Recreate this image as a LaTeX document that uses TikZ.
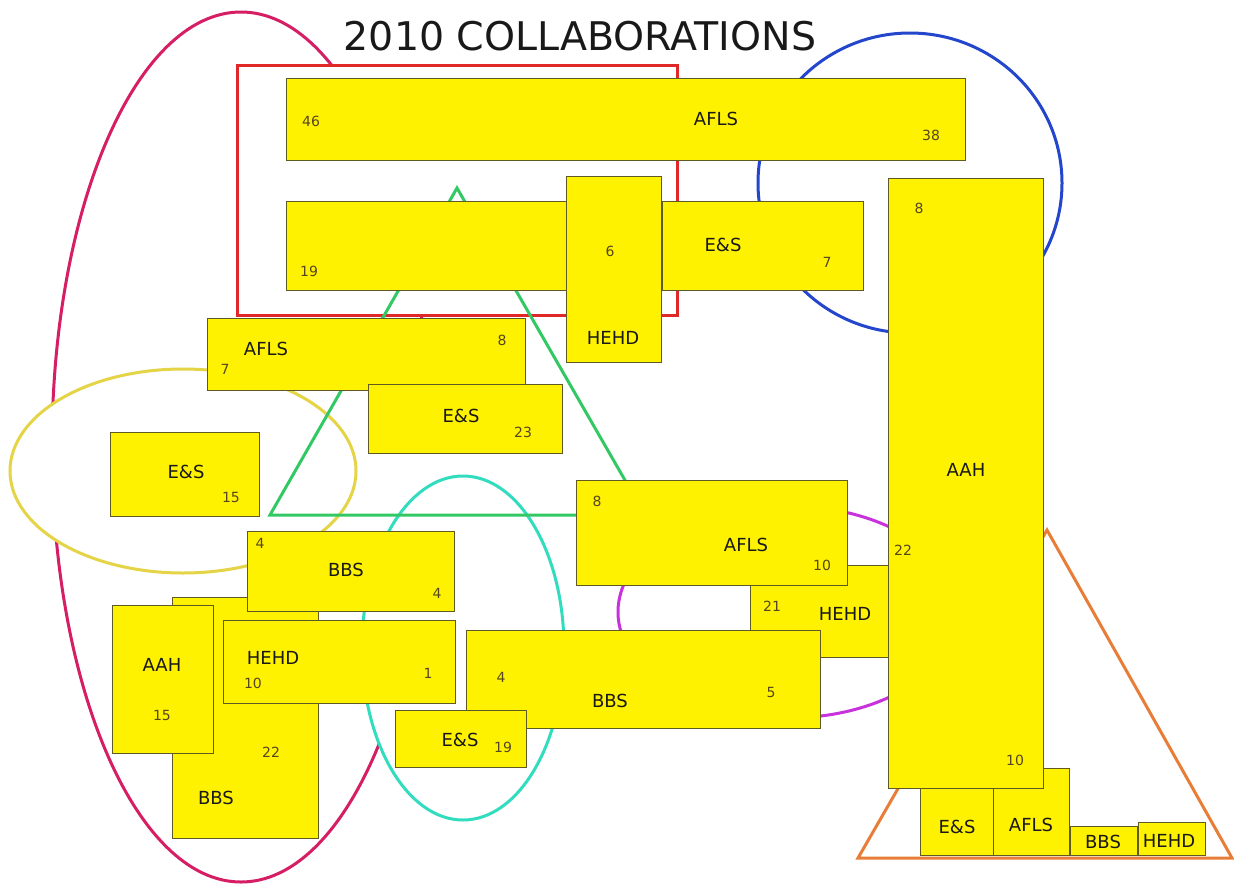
\documentclass[tikz,border=0pt]{standalone}
\usepackage{fontspec}
\setmainfont{DejaVu Sans}
\definecolor{boxc}{RGB}{95,90,35}
\definecolor{numc}{RGB}{85,70,30}
\definecolor{pinkc}{RGB}{214,30,100}
\definecolor{redc}{RGB}{224,40,40}
\definecolor{yelc}{RGB}{228,212,70}
\definecolor{cyanc}{RGB}{50,220,190}
\definecolor{greenc}{RGB}{50,200,100}
\definecolor{bluec}{RGB}{35,70,205}
\definecolor{magc}{RGB}{200,50,220}
\definecolor{orangec}{RGB}{232,125,55}
\begin{document}
\begin{tikzpicture}[x=1pt,y=-1pt,
  box/.style={draw=boxc, fill=yellow, line width=1.3pt, inner sep=0pt, anchor=north west},
  lbl/.style={font=\fontsize{18}{18}\selectfont, text=black!90, inner sep=0pt},
  num/.style={font=\fontsize{14}{14}\selectfont, text=numc, inner sep=0pt},
  ring/.style={line width=3pt}]
\useasboundingbox (0,0) rectangle (1234,884);
\fill[white] (0,0) rectangle (1234,884);
% title
\node[font=\fontsize{39.5}{40}\selectfont, text=black!90, inner sep=0pt] (title) at (580,36) {2010 COLLABORATIONS};
% group outlines
\draw[ring, pinkc] (241,447) ellipse [x radius=189, y radius=435];
\fill[white] (410,452) rectangle (450,508);
\draw[ring, redc, fill=white] (237,65) rectangle (677,315);
\draw[ring, yelc, fill=white] (183,471) ellipse [x radius=173, y radius=102];
\draw[ring, cyanc, fill=white] (463,648) ellipse [x radius=101, y radius=172];
\draw[ring, greenc] (457,188) -- (270,515) -- (645,515) -- cycle;
\draw[ring, bluec] (910,183) ellipse [x radius=152, y radius=150];
\draw[ring, magc] (788,612) ellipse [x radius=170, y radius=106];
\draw[ring, orangec, line join=miter] (1047,530) -- (858,858) -- (1232,858) -- cycle;
% boxes
\node[box, minimum width=314pt, minimum height=89pt] (b19) at (286,201) {};
\node[box, minimum width=201pt, minimum height=89pt] (es7) at (662,201) {};
\node[box, minimum width=95pt, minimum height=186pt] (hehd6) at (566,176) {};
\node[box, minimum width=679pt, minimum height=82pt] (afls46) at (286,78) {};
\node[box, minimum width=318pt, minimum height=72pt] (afls78) at (207,318) {};
\node[box, minimum width=194pt, minimum height=69pt] (es23) at (368,384) {};
\node[box, minimum width=149pt, minimum height=84pt] (es15) at (110,432) {};
\node[box, minimum width=146pt, minimum height=241pt] (bbs22) at (172,597) {};
\node[box, minimum width=101pt, minimum height=148pt] (aah15) at (112,605) {};
\node[box, minimum width=207pt, minimum height=80pt] (bbs44) at (247,531) {};
\node[box, minimum width=232pt, minimum height=83pt] (hehd10) at (223,620) {};
\node[box, minimum width=140pt, minimum height=92pt] (hehd21) at (750,565) {};
\node[box, minimum width=271pt, minimum height=105pt] (afls810) at (576,480) {};
\node[box, minimum width=354pt, minimum height=98pt] (bbs45) at (466,630) {};
\node[box, minimum width=131pt, minimum height=57pt] (es19) at (395,710) {};
\node[box, minimum width=76pt, minimum height=87pt] (aflsb) at (993,768) {};
\node[box, minimum width=73pt, minimum height=67pt] (esb) at (920,788) {};
\node[box, minimum width=67pt, minimum height=29pt] (bbsb) at (1070,826) {};
\node[box, minimum width=67pt, minimum height=33pt] (hehdb) at (1138,822) {};
\node[box, minimum width=155pt, minimum height=610pt] (aah) at (888,178) {};
% labels
\node[num] (t1) at (311,121) {46};
\node[lbl] (t2) at (716,119) {AFLS};
\node[num] (t3) at (931,135) {38};
\node[num] (t4) at (309,271) {19};
\node[lbl] (t5) at (723,245) {E\&S};
\node[num] (t6) at (827,262) {7};
\node[num] (t7) at (610,251) {6};
\node[lbl] (t8) at (613,338) {HEHD};
\node[lbl] (t9) at (266,349) {AFLS};
\node[num] (t10) at (225,369) {7};
\node[num] (t11) at (502,340) {8};
\node[lbl] (t12) at (461,416) {E\&S};
\node[num] (t13) at (523,432) {23};
\node[lbl] (t14) at (186,472) {E\&S};
\node[num] (t15) at (231,497) {15};
\node[num] (t16) at (597,501) {8};
\node[lbl] (t17) at (746,545) {AFLS};
\node[num] (t18) at (822,565) {10};
\node[num] (t19) at (772,606) {21};
\node[lbl] (t20) at (845,614) {HEHD};
\node[num] (t21) at (919,208) {8};
\node[lbl] (t22) at (966,470) {AAH};
\node[num] (t23) at (903,550) {22};
\node[num] (t24) at (1015,760) {10};
\node[num] (t25) at (271,752) {22};
\node[lbl] (t26) at (216,798) {BBS};
\node[lbl] (t27) at (162,665) {AAH};
\node[num] (t28) at (162,715) {15};
\node[num] (t29) at (260,543) {4};
\node[lbl] (t30) at (346,570) {BBS};
\node[num] (t31) at (437,593) {4};
\node[lbl] (t32) at (273,658) {HEHD};
\node[num] (t33) at (253,683) {10};
\node[num] (t34) at (428,673) {1};
\node[num] (t35) at (501,677) {4};
\node[lbl] (t36) at (610,701) {BBS};
\node[num] (t37) at (771,692) {5};
\node[lbl] (t38) at (460,740) {E\&S};
\node[num] (t39) at (503,747) {19};
\node[lbl] (t40) at (957,827) {E\&S};
\node[lbl] (t41) at (1031,825) {AFLS};
\node[lbl] (t42) at (1103,842) {BBS};
\node[lbl] (t43) at (1169,841) {HEHD};
\end{tikzpicture}
\end{document}
